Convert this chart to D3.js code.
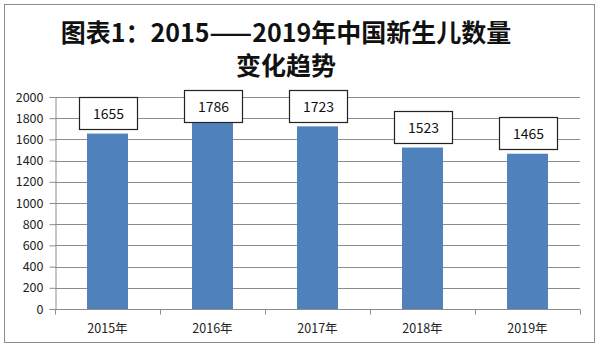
<!DOCTYPE html>
<html>
<head>
<meta charset="utf-8">
<script src="https://cdn.jsdelivr.net/npm/d3@7"></script>
<style>
  body { margin: 0; background: #fff; }
  svg { display: block; }
</style>
</head>
<body>
<div id="chart"></div>
<script>
const years = ['2015年', '2016年', '2017年', '2018年', '2019年'];
const births = [1655, 1786, 1723, 1523, 1465];
const yTicks = [0, 200, 400, 600, 800, 1000, 1200, 1400, 1600, 1800, 2000];
const titleLines = ['图表1：2015——2019年中国新生儿数量', '变化趋势'];

const width = 600, height = 351;
const margin = { top: 97, right: 20, bottom: 42, left: 55 };
const font = '"Noto Sans CJK SC", "Liberation Sans", sans-serif';

const svg = d3.select('#chart').append('svg')
  .attr('width', width)
  .attr('height', height);

// 外框
svg.append('rect')
  .attr('x', 4.5).attr('y', 4.5)
  .attr('width', 590).attr('height', 338)
  .attr('fill', '#fff')
  .attr('stroke', '#8c8c8c');

const x = d3.scaleBand()
  .domain(years)
  .range([margin.left, width - margin.right])
  .paddingInner(0.61)
  .paddingOuter(0.305);

const y = d3.scaleLinear()
  .domain([0, 2000])
  .range([height - margin.bottom, margin.top]);

// 网格线
svg.append('g')
  .selectAll('line')
  .data(yTicks.slice(1))
  .enter().append('line')
  .attr('x1', margin.left).attr('x2', width - margin.right)
  .attr('y1', d => Math.round(y(d)) + 0.5).attr('y2', d => Math.round(y(d)) + 0.5)
  .attr('stroke', '#8c8c8c');

// y 轴
const yAxis = svg.append('g')
  .attr('transform', `translate(${margin.left + 0.5},0)`)
  .call(d3.axisLeft(y).tickValues(yTicks).tickFormat(d3.format('d')).tickSize(6).tickPadding(6));
yAxis.select('.domain').attr('stroke', '#8c8c8c');
yAxis.selectAll('.tick line').attr('stroke', '#8c8c8c');
yAxis.selectAll('.tick text')
  .attr('fill', '#222')
  .style('font-family', font)
  .style('font-size', '12.5px');

// 柱子
svg.append('g')
  .selectAll('rect')
  .data(births)
  .enter().append('rect')
  .attr('x', (d, i) => x(years[i]))
  .attr('y', d => y(d))
  .attr('width', x.bandwidth())
  .attr('height', d => y(0) - y(d))
  .attr('fill', '#4f81bd');

// x 轴
const step = x.step();
const xAxis = svg.append('g')
  .attr('transform', `translate(0,${Math.round(y(0)) + 0.5})`);
xAxis.append('line')
  .attr('x1', margin.left).attr('x2', width - margin.right)
  .attr('stroke', '#8c8c8c');
xAxis.selectAll('.tk')
  .data(d3.range(years.length + 1))
  .enter().append('line')
  .attr('x1', i => Math.round(margin.left + i * step) + 0.5)
  .attr('x2', i => Math.round(margin.left + i * step) + 0.5)
  .attr('y1', 0).attr('y2', 5)
  .attr('stroke', '#8c8c8c');
xAxis.selectAll('text')
  .data(years)
  .enter().append('text')
  .attr('x', d => x(d) + x.bandwidth() / 2)
  .attr('y', 23)
  .attr('text-anchor', 'middle')
  .attr('fill', '#222')
  .style('font-family', font)
  .style('font-size', '12.5px')
  .text(d => d);

// 数据标签框
const boxW = 58, boxH = 32, boxTop = 90;
const labels = svg.append('g')
  .selectAll('g')
  .data(births)
  .enter().append('g')
  .attr('transform', (d, i) => {
    const cx = x(years[i]) + x.bandwidth() / 2;
    const top = Math.max(boxTop, y(d) - 5 - boxH);
    return `translate(${Math.round(cx - boxW / 2) + 0.5},${Math.round(top) + 0.5})`;
  });
labels.append('rect')
  .attr('width', boxW).attr('height', boxH)
  .attr('fill', '#fff')
  .attr('stroke', '#222')
  .attr('stroke-width', 1.2);
labels.append('text')
  .attr('x', boxW / 2).attr('y', boxH / 2 + 5)
  .attr('text-anchor', 'middle')
  .attr('fill', '#111')
  .style('font-family', font)
  .style('font-size', '14px')
  .text(d => d);

// 标题
svg.append('g')
  .selectAll('text')
  .data(titleLines)
  .enter().append('text')
  .attr('x', 286)
  .attr('y', (d, i) => 42 + i * 33)
  .attr('text-anchor', 'middle')
  .attr('fill', '#111')
  .style('font-family', font)
  .style('font-weight', 'bold')
  .style('font-size', '25px')
  .text(d => d);
</script>
</body>
</html>
